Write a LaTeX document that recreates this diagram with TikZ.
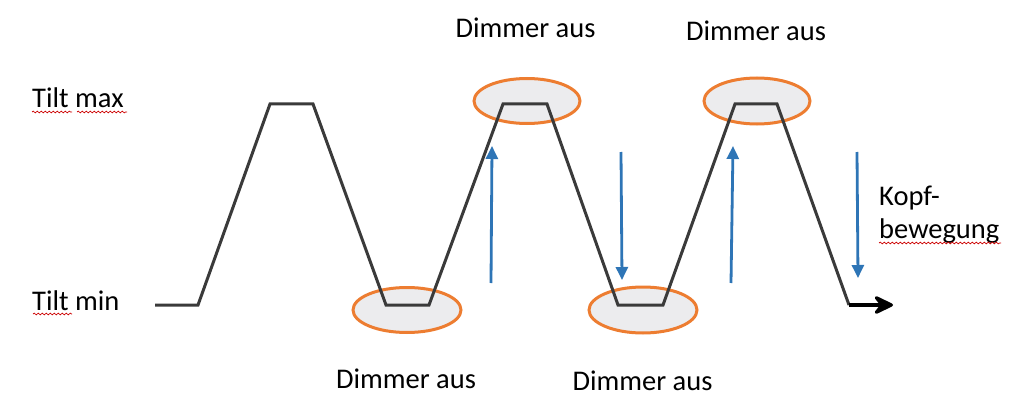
\documentclass[tikz,border=0pt]{standalone}
\usepackage{fontspec}
\setmainfont{Carlito}
\usetikzlibrary{arrows.meta,decorations.pathmorphing}
\definecolor{wave}{HTML}{3A3A3A}
\definecolor{ring}{HTML}{ED7D31}
\definecolor{ringfill}{HTML}{ECECEE}
\definecolor{flow}{HTML}{2E75B6}
\tikzset{
  lbl/.style={font=\fontsize{28.5}{34}\selectfont, inner sep=0pt, anchor=base west},
  lblc/.style={font=\fontsize{28.5}{34}\selectfont, inner sep=0pt, anchor=base},
  wavepath/.style={draw=wave, line width=3pt, line join=miter},
  ringmark/.style={draw=ring, fill=ringfill, line width=3pt},
  flowarrow/.style={draw=flow, line width=2.8pt, -{Triangle[length=13pt,width=12pt]}},
  endarrow/.style={draw=black, line width=3.2pt, -{Stealth[length=24pt,width=23pt,inset=9pt,round]}},
  spell/.style={draw=red!80!black, line width=0.7pt, decorate, decoration={snake, amplitude=0.9pt, segment length=4pt}}
}
\begin{document}
\begin{tikzpicture}[x=1pt,y=-1pt]
\useasboundingbox (0,0) rectangle (1035,409);
% highlight ellipses
\path[ringmark] (527,101) ellipse [x radius=53, y radius=22.5];
\path[ringmark] (757,101) ellipse [x radius=53, y radius=23];
\path[ringmark] (407,310) ellipse [x radius=54, y radius=22.5];
\path[ringmark] (643,310) ellipse [x radius=54, y radius=23];
% waveform
\coordinate (w0) at (155,305);
\coordinate (w1) at (198,305);
\coordinate (w2) at (270,104);
\coordinate (w3) at (313,104);
\coordinate (w4) at (386,305);
\coordinate (w5) at (429,305);
\coordinate (w6) at (503,104);
\coordinate (w7) at (547,104);
\coordinate (w8) at (618,305);
\coordinate (w9) at (663,305);
\coordinate (w10) at (735,104);
\coordinate (w11) at (777,104);
\coordinate (w12) at (849,305);
\coordinate (w13) at (893,305);
\draw[wavepath] (w0) -- (w1) -- (w2) -- (w3) -- (w4) -- (w5) -- (w6) -- (w7) -- (w8) -- (w9) -- (w10) -- (w11) -- (w12);
\draw[endarrow] (w12) -- (w13);
% blue movement arrows
\coordinate (a1s) at (491,283); \coordinate (a1e) at (492,146);
\coordinate (a2s) at (621,152); \coordinate (a2e) at (622,280);
\coordinate (a3s) at (731,283); \coordinate (a3e) at (733,146);
\coordinate (a4s) at (857,152); \coordinate (a4e) at (858,278);
\draw[flowarrow] (a1s) -- (a1e);
\draw[flowarrow] (a2s) -- (a2e);
\draw[flowarrow] (a3s) -- (a3e);
\draw[flowarrow] (a4s) -- (a4e);
% labels
\node[lbl] (tmax) at (32,107) {Tilt max};
\node[lbl] (tmin) at (32,310) {Tilt min};
\node[lblc] (d1) at (525.5,38) {Dimmer aus};
\node[lblc] (d2) at (756,41) {Dimmer aus};
\node[lblc] (d3) at (406,388) {Dimmer aus};
\node[lblc] (d4) at (642.5,390) {Dimmer aus};
\node[lbl] (k1) at (879,205) {Kopf-};
\node[lbl] (k2) at (879,238) {bewegung};
% spell-check underlines
\draw[spell] (32,112) -- (72,112);
\draw[spell] (77,112) -- (127,112);
\draw[spell] (33,314) -- (72,314);
\draw[spell] (879,243) -- (1001,243);
\end{tikzpicture}
\end{document}
